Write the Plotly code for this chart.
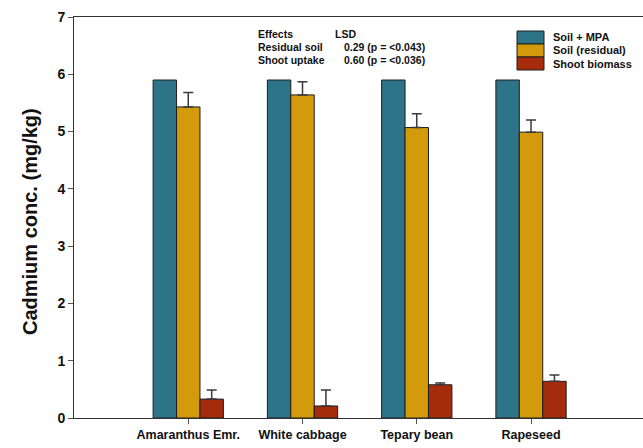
import plotly.graph_objects as go

# Plant species on the x axis
categories = ["Amaranthus Emr.", "White cabbage", "Tepary bean", "Rapeseed"]

# Cadmium concentration (mg/kg) per series
series_names = ["Soil + MPA", "Soil (residual)", "Shoot biomass"]
soil_mpa = [5.90, 5.90, 5.90, 5.90]
soil_residual = [5.43, 5.64, 5.07, 4.99]
soil_residual_err = [0.25, 0.23, 0.24, 0.21]
shoot_biomass = [0.33, 0.21, 0.58, 0.64]
shoot_biomass_err = [0.16, 0.28, 0.03, 0.11]

y_ticks = [0, 1, 2, 3, 4, 5, 6, 7]

# LSD statistics block
lsd_rows = [("Effects", "LSD"),
            ("Residual soil", "0.29 (p = <0.043)"),
            ("Shoot uptake", "0.60 (p = <0.036)")]

colors = ["#2E7489", "#D39A0B", "#A42B0B"]
outline = "#1e1e1e"
err_color = "#3a3a3a"
font_family = "Arial, Liberation Sans, sans-serif"

W, H = 643, 448
ML, MR, MT, MB = 74, 0, 17, 30
plot_w = W - ML - MR
plot_h = H - MT - MB

fig = go.Figure()

fig.add_trace(go.Bar(
    x=categories, y=soil_mpa, name=series_names[0],
    marker=dict(color=colors[0], line=dict(color=outline, width=1)),
))
fig.add_trace(go.Bar(
    x=categories, y=soil_residual, name=series_names[1],
    marker=dict(color=colors[1], line=dict(color=outline, width=1)),
    error_y=dict(type="data", symmetric=False, array=soil_residual_err,
                 arrayminus=[0] * len(soil_residual_err),
                 color=err_color, thickness=1.5, width=5),
))
fig.add_trace(go.Bar(
    x=categories, y=shoot_biomass, name=series_names[2],
    marker=dict(color=colors[2], line=dict(color=outline, width=1)),
    error_y=dict(type="data", symmetric=False, array=shoot_biomass_err,
                 arrayminus=[0] * len(shoot_biomass_err),
                 color=err_color, thickness=1.5, width=5),
))

# Pixel helpers for paper-referenced decorations
def px_x(p):
    return (p - ML) / plot_w

def px_y(p):
    return (H - MB - p) / plot_h

shapes = []
annotations = []

# Hand-built legend with wide colour swatches
box_x0, box_x1 = 517, 544
box_top, box_h = 31, 13
for i, (name, col) in enumerate(zip(series_names, colors)):
    y0 = box_top + i * box_h
    shapes.append(dict(
        type="rect", xref="paper", yref="paper",
        x0=px_x(box_x0), x1=px_x(box_x1),
        y0=px_y(y0 + box_h), y1=px_y(y0),
        fillcolor=col, line=dict(color=outline, width=1),
    ))
    annotations.append(dict(
        xref="paper", yref="paper", x=px_x(551), y=px_y(y0 + box_h / 2),
        xanchor="left", yanchor="middle", showarrow=False, text=name,
        font=dict(family=font_family, size=11, color="#111", weight="bold"),
    ))

# LSD table
row_y = [34, 47, 60]
for (left, right), yy, rx in zip(lsd_rows, row_y, [333, 342, 342]):
    annotations.append(dict(
        xref="paper", yref="paper", x=px_x(256), y=px_y(yy),
        xanchor="left", yanchor="middle", showarrow=False, text=left,
        font=dict(family=font_family, size=10.5, color="#111", weight="bold"),
    ))
    annotations.append(dict(
        xref="paper", yref="paper", x=px_x(rx), y=px_y(yy),
        xanchor="left", yanchor="middle", showarrow=False, text=right,
        font=dict(family=font_family, size=10.5, color="#111", weight="bold"),
    ))

# Y axis title
annotations.append(dict(
    xref="paper", yref="paper", x=px_x(30), y=px_y(222),
    xanchor="center", yanchor="middle", showarrow=False, textangle=-90,
    text="Cadmium conc. (mg/kg)",
    font=dict(family=font_family, size=20, color="#111", weight="bold"),
))

fig.update_layout(
    width=W, height=H,
    margin=dict(l=ML, r=MR, t=MT, b=MB),
    paper_bgcolor="white", plot_bgcolor="white",
    barmode="group", bargap=0.385, bargroupgap=0,
    showlegend=False,
    shapes=shapes, annotations=annotations,
    font=dict(family=font_family, color="#111"),
)

fig.update_xaxes(
    type="category", range=[-1.0, 3.98],
    showline=True, linecolor="#333", linewidth=1, mirror=True,
    ticks="outside", ticklen=5, tickcolor="#555", tickwidth=1,
    showgrid=False, zeroline=False,
    tickfont=dict(family=font_family, size=12.5, color="#111", weight="bold"),
)
fig.update_yaxes(
    range=[0, 7], tickvals=y_ticks,
    showline=True, linecolor="#333", linewidth=1, mirror=False,
    ticks="outside", ticklen=5, tickcolor="#555", tickwidth=1,
    showgrid=False, zeroline=False,
    tickfont=dict(family=font_family, size=14, color="#111", weight="bold"),
)

fig.write_html("out.html")
